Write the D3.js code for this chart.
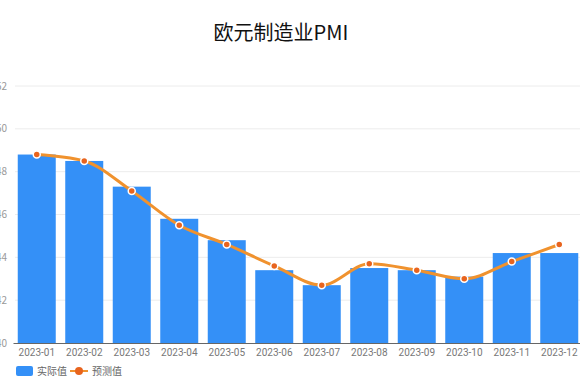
<!DOCTYPE html>
<html>
<head>
<meta charset="utf-8">
<script src="https://cdn.jsdelivr.net/npm/d3@7"></script>
<style>
  body { margin: 0; background: #fff; font-family: "Noto Sans CJK SC", "Noto Sans", sans-serif; }
</style>
</head>
<body>
<div id="chart"></div>
<script>
// data
var months = ["2023-01", "2023-02", "2023-03", "2023-04", "2023-05", "2023-06",
    "2023-07", "2023-08", "2023-09", "2023-10", "2023-11", "2023-12"];
var actual = [48.8, 48.5, 47.3, 45.8, 44.8, 43.4, 42.7, 43.5, 43.4, 43.1, 44.2, 44.2];
var forecast = [48.8, 48.5, 47.1, 45.5, 44.6, 43.6, 42.7, 43.7, 43.4, 43.0, 43.8, 44.6];
var yTicks = [40, 42, 44, 46, 48, 50, 52];

var W = 580, H = 387;
var margin = { left: 13, right: -3, top: 86, bottom: 44 };
var width = W - margin.left - margin.right;
var height = H - margin.top - margin.bottom;

var svg = d3.select("#chart")
    .append("svg")
    .attr("width", W)
    .attr("height", H);

// title
svg.append("text")
    .attr("x", 281)
    .attr("y", 40)
    .attr("text-anchor", "middle")
    .attr("font-size", "20px")
    .attr("fill", "#111")
    .text("欧元制造业PMI");

var g = svg.append("g")
    .attr("transform", "translate(" + margin.left + "," + margin.top + ")");

var x = d3.scaleBand()
    .domain(months)
    .range([0, width])
    .paddingInner(0.2)
    .paddingOuter(0.1);

var y = d3.scaleLinear()
    .domain([40, 52])
    .range([height, 0]);

// grid lines
g.append("g")
    .selectAll("line")
    .data(yTicks.slice(1))
    .enter()
    .append("line")
    .attr("x1", 2)
    .attr("x2", width)
    .attr("y1", function(d) { return y(d); })
    .attr("y2", function(d) { return y(d); })
    .attr("stroke", "#ececec")
    .attr("stroke-width", 1);

// y labels
g.append("g")
    .selectAll("text")
    .data(yTicks)
    .enter()
    .append("text")
    .attr("x", -6)
    .attr("y", function(d) { return y(d); })
    .attr("dy", "0.35em")
    .attr("text-anchor", "end")
    .attr("font-size", "10px")
    .attr("fill", "#999")
    .text(function(d) { return d; });

// bars
g.selectAll("rect.bar")
    .data(actual)
    .enter()
    .append("rect")
    .attr("class", "bar")
    .attr("x", function(d, i) { return x(months[i]); })
    .attr("y", function(d) { return y(d); })
    .attr("width", x.bandwidth())
    .attr("height", function(d) { return height - y(d); })
    .attr("fill", "#3490f7");

// x axis
var xAxis = g.append("g")
    .attr("transform", "translate(0," + height + ")")
    .call(d3.axisBottom(x).tickSize(0).tickPadding(6));
xAxis.select(".domain").attr("stroke", "#666");
xAxis.selectAll("text")
    .attr("font-size", "10px")
    .attr("fill", "#777")
    .attr("font-family", "Roboto, sans-serif");

// forecast line
var line = d3.line()
    .x(function(d, i) { return x(months[i]) + x.bandwidth() / 2; })
    .y(function(d) { return y(d); })
    .curve(d3.curveMonotoneX);

g.append("path")
    .datum(forecast)
    .attr("d", line)
    .attr("fill", "none")
    .attr("stroke", "#f0922e")
    .attr("stroke-width", 3);

g.selectAll("circle.pt")
    .data(forecast)
    .enter()
    .append("circle")
    .attr("class", "pt")
    .attr("cx", function(d, i) { return x(months[i]) + x.bandwidth() / 2; })
    .attr("cy", function(d) { return y(d); })
    .attr("r", 3.5)
    .attr("fill", "#e8641e")
    .attr("stroke", "#fff")
    .attr("stroke-width", 1.5);

// legend
var lg = svg.append("g").attr("transform", "translate(16,371)");
lg.append("rect")
    .attr("x", 0).attr("y", -5)
    .attr("width", 17).attr("height", 10)
    .attr("rx", 2)
    .attr("fill", "#3490f7");
lg.append("text")
    .attr("x", 21).attr("y", 0).attr("dy", "0.35em")
    .attr("font-size", "10px").attr("fill", "#666")
    .text("实际值");
lg.append("line")
    .attr("x1", 54).attr("x2", 72).attr("y1", 0).attr("y2", 0)
    .attr("stroke", "#f0922e").attr("stroke-width", 2);
lg.append("circle")
    .attr("cx", 63).attr("cy", 0).attr("r", 4)
    .attr("fill", "#e8641e");
lg.append("text")
    .attr("x", 76).attr("y", 0).attr("dy", "0.35em")
    .attr("font-size", "10px").attr("fill", "#666")
    .text("预测值");
</script>
</body>
</html>
